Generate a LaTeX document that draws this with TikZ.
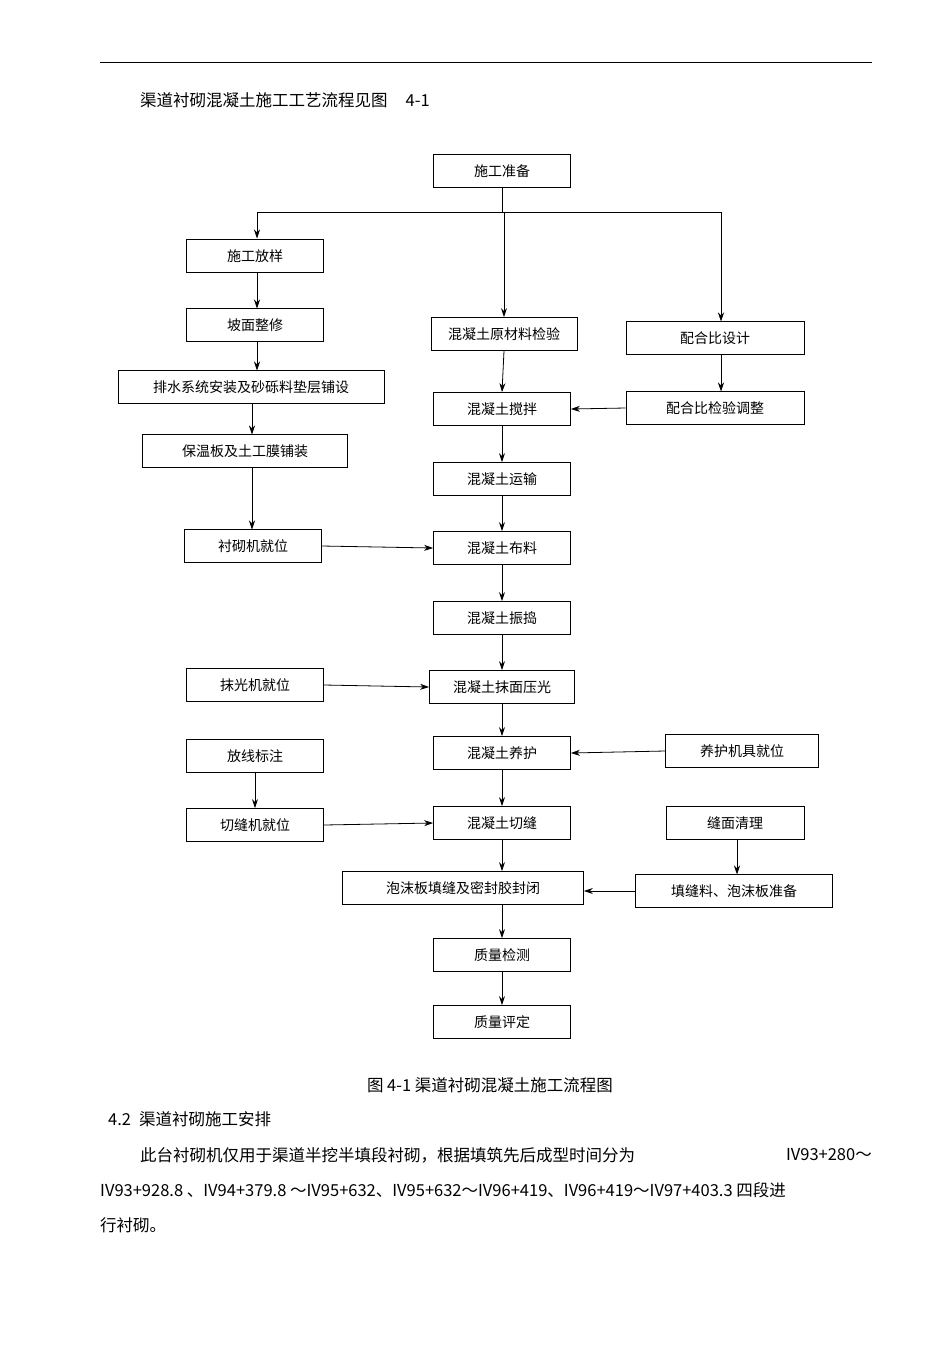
\documentclass[tikz,border=0pt]{standalone}
\usepackage{fontspec}
\setmainfont{Liberation Sans}
\newfontfamily\cjk{Noto Sans CJK SC}
\usetikzlibrary{arrows.meta}
\begin{document}
\begin{tikzpicture}[x=1pt,y=-1pt,
  box/.style={draw,thick,minimum height=33pt,inner sep=0pt,font=\cjk\fontsize{14}{14}\selectfont},
  arr/.style={thick,-{Stealth[length=9pt,width=6pt]}},
  txt/.style={font=\cjk\fontsize{16.5}{17}\selectfont,inner sep=0pt,anchor=west}]
\useasboundingbox (0,0) rectangle (950,1345);
\draw (100,62) -- (872,62);
\node[txt] (h) at (140,100) {渠道衬砌混凝土施工工艺流程见图\hspace{18pt}4-1};

\node[box,minimum width=137pt] (zb) at (502,171) {施工准备};
\node[box,minimum width=137pt] (fy) at (255,256) {施工放样};
\node[box,minimum width=137pt] (pm) at (255,325) {坡面整修};
\node[box,minimum width=266pt] (ps) at (251,387) {排水系统安装及砂砾料垫层铺设};
\node[box,minimum width=205pt] (bw) at (245,451) {保温板及土工膜铺装};
\node[box,minimum width=137pt] (cq) at (253,546) {衬砌机就位};
\node[box,minimum width=146pt] (yc) at (504,334) {混凝土原材料检验};
\node[box,minimum width=178pt] (ph) at (715,338) {配合比设计};
\node[box,minimum width=137pt] (jb) at (502,409) {混凝土搅拌};
\node[box,minimum width=178pt] (pj) at (715,408) {配合比检验调整};
\node[box,minimum width=137pt] (ys) at (502,479) {混凝土运输};
\node[box,minimum width=137pt] (bl) at (502,548) {混凝土布料};
\node[box,minimum width=137pt] (zd) at (502,618) {混凝土振捣};
\node[box,minimum width=137pt] (mg) at (255,685) {抹光机就位};
\node[box,minimum width=145pt] (my) at (502,687) {混凝土抹面压光};
\node[box,minimum width=137pt] (yh) at (502,753) {混凝土养护};
\node[box,minimum width=153pt] (yj) at (742,751) {养护机具就位};
\node[box,minimum width=137pt] (fx) at (255,756) {放线标注};
\node[box,minimum width=137pt] (qj) at (255,825) {切缝机就位};
\node[box,minimum width=137pt] (qf) at (502,823) {混凝土切缝};
\node[box,minimum width=138pt] (fm) at (735,823) {缝面清理};
\node[box,minimum width=241pt] (pb) at (463,888) {泡沫板填缝及密封胶封闭};
\node[box,minimum width=197pt] (tf) at (734,891) {填缝料、泡沫板准备};
\node[box,minimum width=137pt] (jc) at (502,955) {质量检测};
\node[box,minimum width=137pt] (pd) at (502,1022) {质量评定};

\coordinate (br) at (502,212);
\draw[thick] (zb.south) -- (br);
\draw[thick] (257,212) -- (721,212);
\draw[arr] (257,212) -- (257,238.5);
\draw[arr] (504,212) -- (yc.north);
\draw[arr] (721,212) -- (721,321.5);

\draw[arr] (fy.south -| 257,0) -- (257,308.5);
\draw[arr] (257,341.5) -- (257,370.5);
\draw[arr] (252,403.5) -- (252,434.5);
\draw[arr] (252,467.5) -- (252,529.5);
\draw[arr] (cq.east) -- (bl.west);
\draw[arr] (yc.south) -- (jb.north);
\draw[arr] (ph.south -| 721,0) -- (721,391.5);
\draw[arr] (pj.west) -- (jb.east);
\draw[arr] (jb.south) -- (ys.north);
\draw[arr] (ys.south) -- (bl.north);
\draw[arr] (bl.south) -- (zd.north);
\draw[arr] (zd.south) -- (my.north);
\draw[arr] (mg.east) -- (my.west);
\draw[arr] (my.south) -- (yh.north);
\draw[arr] (yj.west) -- (yh.east);
\draw[arr] (fx.south) -- (qj.north);
\draw[arr] (qj.east) -- (qf.west);
\draw[arr] (yh.south) -- (qf.north);
\draw[arr] (qf.south) -- (qf.south |- pb.north);
\draw[arr] (fm.south -| 737,0) -- (737,874.5);
\draw[arr] (tf.west) -- (tf.west -| pb.east);
\draw[arr] (pb.south -| jc.north) -- (jc.north);
\draw[arr] (jc.south) -- (pd.north);

\node[font=\cjk\fontsize{16.5}{17}\selectfont,inner sep=0pt] (cap) at (490,1085) {图 4-1 渠道衬砌混凝土施工流程图};
\node[txt] (s42) at (108,1119) {4.2\hspace{8pt}渠道衬砌施工安排};
\node[txt] (p1) at (140,1155) {此台衬砌机仅用于渠道半挖半填段衬砌，根据填筑先后成型时间分为};
\node[txt,anchor=east] (p1b) at (872,1155) {IV93+280～};
\node[txt] (p2) at (100,1190) {IV93+928.8 、IV94+379.8 ～IV95+632、IV95+632～IV96+419、IV96+419～IV97+403.3 四段进};
\node[txt] (p3) at (100,1225) {行衬砌。};
\end{tikzpicture}
\end{document}
